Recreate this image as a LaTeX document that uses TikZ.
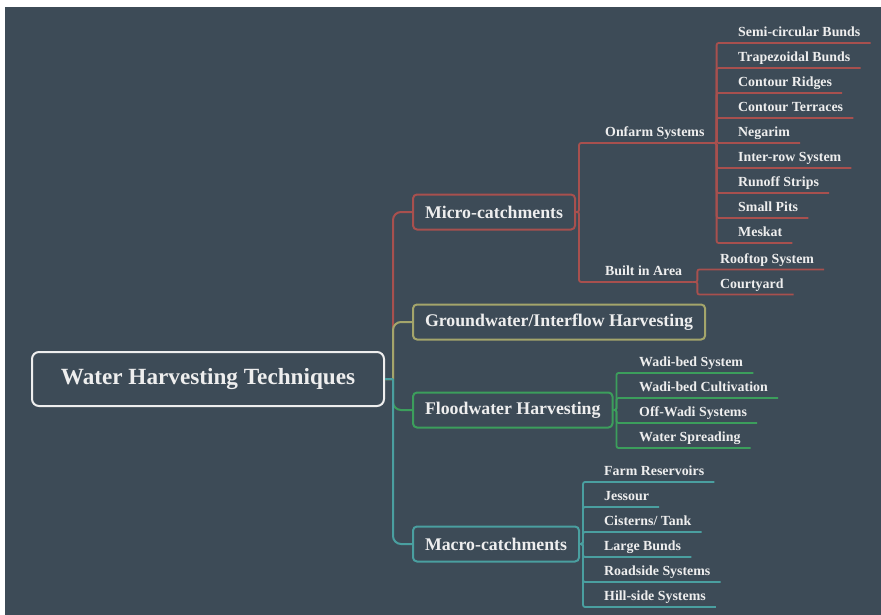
\documentclass[tikz,border=0pt]{standalone}
\usepackage{fontspec}
\setmainfont{Liberation Serif}
\definecolor{slate}{RGB}{61,75,87}
\definecolor{microred}{RGB}{168,80,78}
\definecolor{gwolive}{RGB}{164,165,107}
\definecolor{floodgreen}{RGB}{60,158,92}
\definecolor{macroteal}{RGB}{74,159,160}
\definecolor{labelwhite}{RGB}{238,238,238}

\begin{document}
\begin{tikzpicture}[x=1pt,y=-1pt]
\tikzset{branch/.style={line width=2pt,rounded corners=8pt},
	twig/.style={line width=1.8pt,rounded corners=2pt},
	topic/.style={draw,line width=2pt,rounded corners=4pt,fill=slate,text=labelwhite,font=\fontsize{17.8}{20}\selectfont\bfseries,inner xsep=12pt,minimum height=35pt,anchor=west},
	leaf/.style={text=labelwhite,font=\fontsize{13.9}{16}\selectfont\bfseries,inner xsep=10pt,inner ysep=2.5pt,text height=10pt,text depth=3.5pt,anchor=south west}}
\useasboundingbox (0,0) rectangle (881,615);
\fill[white] (0,0) rectangle (881,615);
\fill[slate] (5,7) rectangle (881,615);

\node[draw=labelwhite,line width=2pt,rounded corners=7pt,text=labelwhite,font=\fontsize{23.2}{26}\selectfont\bfseries,minimum width=352pt,minimum height=54pt] (root) at (208,379) {Water Harvesting Techniques};

\node[topic,draw=microred] (micro) at (412,212) {Micro-catchments};
\node[topic,draw=gwolive] (gw) at (412,322) {Groundwater/Interflow Harvesting};
\node[topic,draw=floodgreen] (flood) at (412,410) {Floodwater Harvesting};
\node[topic,draw=macroteal] (macro) at (412,544) {Macro-catchments};
\draw[branch,microred] (root.east) -- ++(8,0) ++(0,0) |- (micro.west);
\draw[branch,gwolive] (root.east) -- ++(8,0) ++(0,0) |- (gw.west);
\draw[branch,floodgreen] (root.east) -- ++(8,0) ++(0,0) |- (flood.west);
\draw[branch,macroteal] (root.east) -- ++(8,0) ++(0,0) |- (macro.west);

% micro-catchments
\node[leaf] (onf) at (595,143) {Onfarm Systems};
\node[leaf] (bia) at (595,282) {Built in Area};
\foreach \n in {onf,bia}
	\draw[twig,microred] (micro.east) -- ++(3,0) |- (\n.south west) -- (\n.south east);
\foreach \i/\t in {0/Semi-circular Bunds,1/Trapezoidal Bunds,2/Contour Ridges,3/Contour Terraces,4/Negarim,5/Inter-row System,6/Runoff Strips,7/Small Pits,8/Meskat}{%
	\node[leaf] (on\i) at (728,{43+25*\i}) {\t};
	\draw[twig,microred] (onf.south east) -- ++(2,0) |- (on\i.south west) -- (on\i.south east);
}%
\foreach \i/\t in {0/Rooftop System,1/Courtyard}{%
	\node[leaf] (bi\i) at (710,{269.5+25*\i}) {\t};
	\draw[twig,microred] (bia.south east) -- ++(5,0) |- (bi\i.south west) -- (bi\i.south east);
}%

% floodwater
\foreach \i/\t in {0/Wadi-bed System,1/Wadi-bed Cultivation,2/Off-Wadi Systems,3/Water Spreading}{%
	\node[leaf] (fl\i) at (629,{373+25*\i}) {\t};
	\draw[twig,floodgreen] (flood.east) -- ++(3,0) |- (fl\i.south west) -- (fl\i.south east);
}%

% macro-catchments
\foreach \i/\t in {0/Farm Reservoirs,1/Jessour,2/{Cisterns/ Tank},3/Large Bunds,4/Roadside Systems,5/Hill-side Systems}{%
	\node[leaf] (ma\i) at (594,{482+25*\i}) {\t};
	\draw[twig,macroteal] (macro.east) -- ++(3,0) |- (ma\i.south west) -- (ma\i.south east);
}%
\end{tikzpicture}
\end{document}
